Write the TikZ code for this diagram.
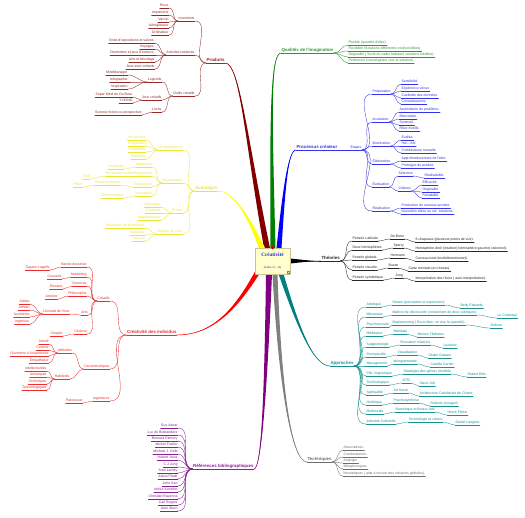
\documentclass[tikz,border=0pt]{standalone}
\usepackage{fontspec}
\usetikzlibrary{calc,backgrounds}
\newfontfamily\lsans{Liberation Sans}
\newfontfamily\lserif{Liberation Serif}
\newcommand{\leaffont}{\lsans\fontsize{3.5}{4}\selectfont}
\newcommand{\topicfont}{\lsans\bfseries\fontsize{4.4}{5}\selectfont}

\definecolor{prodc}{RGB}{150,40,40}
\definecolor{prodT}{RGB}{128,0,0}
\definecolor{avc}{RGB}{235,230,50}
\definecolor{avT}{RGB}{255,255,0}
\definecolor{indc}{RGB}{235,45,45}
\definecolor{indT}{RGB}{255,0,0}
\definecolor{refc}{RGB}{140,30,150}
\definecolor{refT}{RGB}{128,0,128}
\definecolor{techc}{RGB}{110,110,110}
\definecolor{techT}{RGB}{128,128,128}
\definecolor{appc}{RGB}{25,145,145}
\definecolor{appT}{RGB}{0,128,128}
\definecolor{theoc}{RGB}{40,40,40}
\definecolor{procc}{RGB}{50,50,230}
\definecolor{procT}{RGB}{0,0,255}
\definecolor{qualc}{RGB}{50,150,50}
\definecolor{qualT}{RGB}{0,128,0}
\definecolor{ctrc}{RGB}{40,40,210}
\definecolor{ctrfill}{RGB}{255,255,204}
\definecolor{ctrline}{RGB}{205,195,150}

% tapered main branch: colour, start, control 1, control 2, end, half width vector
\newcommand{\mainbranch}[6]{%
  \fill[#1] ($#2-#6$) .. controls ($#3-0.5*#6$) and #4 .. #5
    .. controls #4 and ($#3+0.5*#6$) .. ($#2+#6$) -- cycle;
  \draw[#1, line width=0.5pt] #2 .. controls #3 and #4 .. #5;}

\tikzset{
  txt/.style={font=\leaffont, inner xsep=0.3pt, inner ysep=0.4pt,
    text height=2.5pt, text depth=0.75pt},
  lnode/.style={txt, anchor=south east, text=#1,
    append after command={(\tikzlastnode.south west) edge[draw=#1, line width=0.35pt] (\tikzlastnode.south east)}},
  rnode/.style={txt, anchor=south west, text=#1,
    append after command={(\tikzlastnode.south west) edge[draw=#1, line width=0.35pt] (\tikzlastnode.south east)}},
  topic/.style={font=\topicfont, text height=3.3pt, text depth=1pt},
  link/.style={draw=#1, line width=0.35pt},
  lft/.style={out=180, in=0},
  rgt/.style={out=0, in=180},
}

\begin{document}
\begin{tikzpicture}[x=1pt, y=-1pt, line cap=round]
\useasboundingbox (0,0) rectangle (525,518);

% centre
\node[draw=ctrline, fill=ctrfill, line width=0.4pt, minimum width=35pt, minimum height=26pt,
  inner sep=0pt, align=center] (ctr) at (272.5,261)
  {{\lserif\bfseries\fontsize{5.2}{6}\selectfont\color{ctrc}Créativité}\\[0.5pt]
   {\lsans\fontsize{2.6}{3}\selectfont\color{ctrc}[9-Mar-12 - 15]}};
\fill[red!80!black] (ctr.north) circle (1.7pt);
\draw[gray, line width=0.2pt] ($(ctr.south east)+(-3.5,-3.5)$) rectangle ($(ctr.south east)+(-1.5,-1.5)$);

% Produits
\node[lnode=prodc, topic] (prod) at (225,63) {Produits};
\node[lnode=prodc] (inv) at (195,21) {Inventions};
\node[lnode=prodc] (act) at (195,55) {Activités créatives};
\node[lnode=prodc] (outil) at (195,96) {Outils créatifs};
\foreach \n in {inv,act,outil}
  \draw[link=prodc] (prod.south west) to[lft] (\n.south east);
\foreach \t/\y [count=\i] in {Roue/8, Imprimerie/15, Vaccin/22, Aéroglisseur/28, Ordinateur/35}{
  \node[lnode=prodc] (inv\i) at (169,\y) {\t};
  \draw[link=prodc] (inv.south west) to[lft] (inv\i.south east);
}
\foreach \t/\y [count=\i] in {Visite d'expositions et salons./43, Voyages./49, Devinettes et jeux d'écriture./55, Arts et bricolage/62, Jeux avec enfants/69}{
  \node[lnode=prodc] (act\i) at (155,\y) {\t};
  \draw[link=prodc] (act.south west) to[lft] (act\i.south east);
}
\node[lnode=prodc] (logi) at (162,82) {Logiciels};
\node[lnode=prodc] (jeux) at (162,100) {Jeux créatifs};
\node[lnode=prodc] (livr) at (162,112) {Livres};
\foreach \n in {logi,jeux,livr}
  \draw[link=prodc] (outil.south west) to[lft] (\n.south east);
\foreach \t/\y [count=\i] in {MindManager/75, Infographie/82, Inspiration/89}{
  \node[lnode=prodc] (logi\i) at (128,\y) {\t};
  \draw[link=prodc] (logi.south west) to[lft] (logi\i.south east);
}
\node[lnode=prodc] (smind) at (133,97) {Super Mind de Du Bosc};
\node[lnode=prodc] (yiking) at (133,103) {YI-KING};
\node[lnode=prodc] (scifi) at (142,115) {Science fiction ou prospective};
\draw[link=prodc] (jeux.south west) to[lft] (smind.south east);
\draw[link=prodc] (jeux.south west) to[lft] (yiking.south east);
\draw[link=prodc] (livr.south west) to[lft] (scifi.south east);

% Avantages
\node[lnode=avc, topic] (avan) at (218,191) {Avantages};
\node[lnode=avc] (vieq) at (183,150) {Vie quotidienne};
\node[lnode=avc] (orga) at (183,183) {Organisation};
\node[lnode=avc] (ecol) at (183,213) {Écoles};
\node[lnode=avc] (crise) at (183,234) {Gestion de crise};
\foreach \n in {vieq,orga,ecol,crise}
  \draw[link=avc] (avan.south west) to[lft] (\n.south east);
\foreach \t/\y [count=\i] in {Vie de rêve/140, Expression/146, Problèmes/152, Solutions/159}{
  \node[lnode=avc] (vieq\i) at (146,\y) {\t};
  \draw[link=avc] (vieq.south west) to[lft] (vieq\i.south east);
}
\node[lnode=avc] (mark) at (152,167) {Marketing};
\node[lnode=avc] (rdev) at (152,176) {Recherche et développement};
\node[lnode=avc] (deco) at (152,187) {Découverte};
\node[lnode=avc] (inno) at (152,196) {Innovation};
\foreach \n in {mark,rdev,deco,inno}
  \draw[link=avc] (orga.south west) to[lft] (\n.south east);
\node[lnode=avc] (mcrea) at (124,169) {Créativité};
\node[lnode=avc] (bell) at (90,179) {Bell};
\node[lnode=avc] (phar) at (121,185) {Pharmaceutique};
\node[lnode=avc] (pfiz) at (83,187) {Pfizer};
\node[lnode=avc] (trois) at (124,198) {3M Innovation};
\draw[link=avc] (mark.south west) to[lft] (mcrea.south east);
\draw[link=avc] (rdev.south west) to[lft] (bell.south east);
\draw[link=avc] (deco.south west) to[lft] (phar.south east);
\draw[link=avc] (phar.south west) to[lft] (pfiz.south east);
\draw[link=avc] (inno.south west) to[lft] (trois.south east);
\foreach \t/\y [count=\i] in {Motivation/207, Créativité/213, Apprentissage/220}{
  \node[lnode=avc] (ecol\i) at (161,\y) {\t};
  \draw[link=avc] (ecol.south west) to[lft] (ecol\i.south east);
}
\foreach \t/\y [count=\i] in {Résolution de problèmes/228, Solutions/235, Succès/241}{
  \node[lnode=avc] (crise\i) at (145,\y) {\t};
  \draw[link=avc] (crise.south west) to[lft] (crise\i.south east);
}

% Creativite des individus
\node[lnode=indc, topic] (indiv) at (177,335) {Créativité des individus};
\node[lnode=indc] (creat) at (110,301) {Créatifs};
\node[lnode=indc] (carac) at (110,369) {Caractéristiques};
\node[lnode=indc] (ingen) at (110,401) {Ingénieurs};
\node[lnode=indc] (pares) at (83,403) {Paresseux};
\foreach \n in {creat,carac,ingen}
  \draw[link=indc] (indiv.south west) to[lft] (\n.south east);
\draw[link=indc] (ingen.south west) to[lft] (pares.south east);
\foreach \t/\y/\s/\ya/\xa [count=\i] in {Bande dessinée/267/Gaston Lagaffe/270/50, Marketing/277/Cossette/279/62, Sciences/286/Einstein/289/63, Philosophie/296/Aristote/299/58, Cinéma/334/Chaplin/336/63}{
  \node[lnode=indc] (cr\i) at (87,\y) {\t};
  \node[lnode=indc] (crl\i) at (\xa,\ya) {\s};
  \draw[link=indc] (creat.south west) to[lft] (cr\i.south east);
  \draw[link=indc] (cr\i.south west) to[lft] (crl\i.south east);
}
\node[lnode=indc] (arts) at (88,315) {Arts};
\node[lnode=indc] (leon) at (70,314) {Léonard de Vinci};
\draw[link=indc] (creat.south west) to[lft] (arts.south east);
\draw[link=indc] (arts.south west) to[lft] (leon.south east);
\foreach \t/\y [count=\i] in {Artiste/304, Artisan/310, Architecte/317, Ingénieur/324}{
  \node[lnode=indc] (leon\i) at (30,\y) {\t};
  \draw[link=indc] (leon.south west) to[lft] (leon\i.south east);
}
\node[lnode=indc] (atti) at (72,353) {Attitudes};
\node[lnode=indc] (habi) at (70,379) {Habiletés};
\draw[link=indc] (carac.south west) to[lft] (atti.south east);
\draw[link=indc] (carac.south west) to[lft] (habi.south east);
\foreach \t/\y [count=\i] in {Intuitif/344, Curieux/350, Ouverture à l'expérience/356, Empathique/363}{
  \node[lnode=indc] (atti\i) at (49,\y) {\t};
  \draw[link=indc] (atti.south west) to[lft] (atti\i.south east);
}
\foreach \t/\y [count=\i] in {Intellectuelles/371, Artistiques/377, Techniques/384, Technologiques/390}{
  \node[lnode=indc] (habi\i) at (47,\y) {\t};
  \draw[link=indc] (habi.south west) to[lft] (habi\i.south east);
}

% References bibliographiques
\node[lnode=refc, topic] (refs) at (254,469) {Références bibliographiques};
\foreach \t/\y [count=\i] in {Guy Aznar/428, Luc de Brabandere/435, Bernard Demory/441, Michel Fustier/447, Micheal J. Gelb/454, Hubert Jaoui/460, C.J.Jung/467, Yvan Landry/473, Alexis Plank/479, John Kao/486, Arthur Koestler/492, Christian Ravenna/499, Carl Rogers/505, Arno Stern/511}{
  \node[lnode=refc] (ref\i) at (178,\y) {\t};
  \draw[link=refc] (refs.south west) to[lft] (ref\i.south east);
}

% Techniques
\node[rnode=techc, topic] (tech) at (307,462) {Techniques};
\foreach \t/\y [count=\i] in {Associatives./450, Combinatoires./457, Analogie./463, Métaphoriques./469, {Heuristiques ( aide à trouver des solutions globales).}/476}{
  \node[rnode=techc] (tech\i) at (343,\y) {\t};
  \draw[link=techc] (tech.south east) to[rgt] (tech\i.south west);
}

% Approches
\node[rnode=appc, topic] (appr) at (330,366) {Approches};
\foreach \na/\nb/\nc/\y/\xb/\xc [count=\i] in {
  Artistique/{Dessin (perception et expression)}/Betty Edwards/307/392/460,
  Mécaniste/{Matrice de découverte (croisement de deux rubriques)}/Le Corbusier/317/392/497,
  Psychosociale/{Brainstorming ( Roue libre, on vise la quantité).}/Osborn/327/392/490,
  Méditative/Mandala/Moines Tibétains/336/393/417,
  Suggestologie/Évocation créatrice/Lozanov/347/400/443,
  Perceptuelle/Visualisation/Shakti Gawain/357/397/428,
  Management/Idéogrammatie/Camille Carrier/366/393/430,
  PNL linguistique/{Stratégies des génies (modèle}/Robert Dilts/376/403/467,
  Technologique/NTIC/Steve Job/385/402/419,
  Spiritualité/Art Sacré/Architecture Cathédrale de Charte/395/393/419,
  Holistique/Psychosynthèse/Roberto Assagioli/405/393/430,
  Multimedia/Numérique et Beaux-Arts/Hervé Fisher/414/395/447,
  Industrie Culturelle/Technologie et culture/Daniel Langlois/424/408/455}{
  \node[rnode=appc] (ap\i) at (366,\y) {\na};
  \node[rnode=appc] (apm\i) at (\xb,\y-2) {\nb};
  \node[rnode=appc] (apa\i) at (\xc,\y+1) {\nc};
  \draw[link=appc] (appr.south east) to[rgt] (ap\i.south west);
  \draw[link=appc] (ap\i.south east) to[rgt] (apm\i.south west);
  \draw[link=appc] (apm\i.south east) to[rgt] (apa\i.south west);
}

% Theories
\node[rnode=theoc, topic] (theo) at (321,261) {Théories};
\foreach \na/\nb/\nc/\y/\xb/\xc [count=\i] in {
  Pensée Latérale/De Bono/{6 chapeaux (plusieurs points de vue).}/241/390/415,
  Deux hémisphères/Sperry/{Hemisphère droit (intuition) hémisphère gauche( rationnel).}/250/393/415,
  Pensée globale/Hermann/{Cerveau total (multidimentionnel).}/260/390/415,
  Pensée visuelle/Buzan/{Carte mentale (en réseau).}/270/388/408,
  Pensée symbolique/Jung/{Interprétation des rêves ( auto-interprétation).}/280/395/415}{
  \node[rnode=theoc] (th\i) at (352,\y) {\na};
  \node[rnode=theoc] (tha\i) at (\xb,\y-2) {\nb};
  \node[rnode=theoc] (thd\i) at (\xc,\y+1) {\nc};
  \draw[link=theoc] (theo.south east) to[rgt] (th\i.south west);
  \draw[link=theoc] (th\i.south east) to[rgt] (tha\i.south west);
  \draw[link=theoc] (tha\i.south east) to[rgt] (thd\i.south west);
}

% Processus createur
\node[rnode=procc, topic] (proc) at (296,150) {Processus créateur};
\node[rnode=procc] (etap) at (350,150) {Etapes};
\draw[link=procc] (proc.south east) -- (etap.south west);
\foreach \t/\y/\n in {Préparation/94/prep, Incubation/122/incu, Illumination/146/illu, Élaboration/164/elab, Évaluation/187/eval, Réalisation/211/real}{
  \node[rnode=procc] (\n) at (372,\y) {\t};
  \draw[link=procc] (etap.south east) to[rgt] (\n.south west);
}
\foreach \t/\y [count=\i] in {Sensibilité/84, Expérience vécue/91, Cueillette des données./98, Connaissances./104}{
  \node[rnode=procc] (prep\i) at (401,\y) {\t};
  \draw[link=procc] (prep.south east) to[rgt] (prep\i.south west);
}
\foreach \t/\y [count=\i] in {Assimilation du problème./112, Bisociation/119, Sommeil./125, Rêve éveillé./131}{
  \node[rnode=procc] (incu\i) at (399,\y) {\t};
  \draw[link=procc] (incu.south east) to[rgt] (incu\i.south west);
}
\foreach \t/\y [count=\i] in {Eurêka./140, {Ha!\ldots{}Ah!}/146, Combinaison nouvelle/153}{
  \node[rnode=procc] (illu\i) at (401,\y) {\t};
  \draw[link=procc] (illu.south east) to[rgt] (illu\i.south west);
}
\foreach \t/\y [count=\i] in {Approfondissement de l'idée./161, Prototype du produit./168}{
  \node[rnode=procc] (elab\i) at (401,\y) {\t};
  \draw[link=procc] (elab.south east) to[rgt] (elab\i.south west);
}
\node[rnode=procc] (sele) at (398,176) {Sélection};
\node[rnode=procc] (crit) at (398,191) {Critères};
\node[rnode=procc] (realis) at (424,178) {Réalisabilité.};
\draw[link=procc] (eval.south east) to[rgt] (sele.south west);
\draw[link=procc] (eval.south east) to[rgt] (crit.south west);
\draw[link=procc] (sele.south east) to[rgt] (realis.south west);
\foreach \t/\y [count=\i] in {Efficacité./185, Originalité./192, Faisabilité./198}{
  \node[rnode=procc] (crit\i) at (422,\y) {\t};
  \draw[link=procc] (crit.south east) to[rgt] (crit\i.south west);
}
\foreach \t/\y [count=\i] in {Production du nouveau produit./208, Nouvelles idées ou sol. solutions./214}{
  \node[rnode=procc] (real\i) at (401,\y) {\t};
  \draw[link=procc] (real.south east) to[rgt] (real\i.south west);
}

% Qualites de l'imagination
\node[rnode=qualc, topic] (qual) at (281,53) {Qualités de l'imagination};
\foreach \t/\y [count=\i] in {{Fluidité (quantité d'idée).}/45, {Flexibilité (Solutions différentes et diversifiées).}/51, {Originalité ( Sortir du cadre habituel, solutions inédites).}/57, {Pertinence (convergence vers la solution).}/63}{
  \node[rnode=qualc] (qual\i) at (348,\y) {\t};
  \draw[link=qualc] (qual.south east) to[rgt] (qual\i.south west);
}

% main branches behind the centre
\begin{scope}[on background layer]
  \fill[white] (0,0) rectangle (525,518);
  \mainbranch{prodT}{(267,248)}{(246,140)}{(240,63)}{(prod.south east)}{(3,0)}
  \mainbranch{avT}{(262,248)}{(252,225)}{(236,191)}{(avan.south east)}{(3,0)}
  \mainbranch{qualT}{(273,248)}{(271,120)}{(270,53)}{(qual.south west)}{(2.5,0)}
  \mainbranch{procT}{(279,248)}{(284,190)}{(288,150)}{(proc.south west)}{(2.5,0)}
  \mainbranch{black}{(ctr.east)}{(302,261)}{(312,261)}{(theo.south west)}{(0,2.5)}
  \mainbranch{indT}{(257,273)}{(238,305)}{(215,335)}{(indiv.south east)}{(1.8,1.8)}
  \mainbranch{refT}{(269,274)}{(266,380)}{(262,469)}{(refs.south east)}{(3,0)}
  \mainbranch{techT}{(275,274)}{(280,390)}{(292,462)}{(tech.south west)}{(2.5,0)}
  \mainbranch{appT}{(281,274)}{(296,320)}{(312,366)}{(appr.south west)}{(2.5,0)}
\end{scope}
\end{tikzpicture}
\end{document}
